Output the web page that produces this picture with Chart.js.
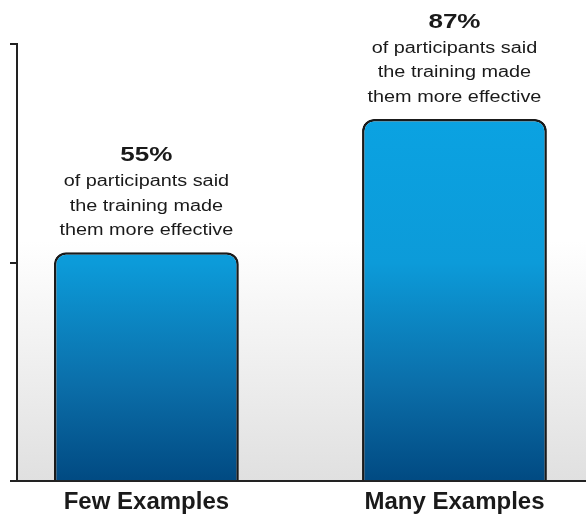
<!DOCTYPE html>
<html>
<head>
<meta charset="utf-8">
<script src="https://cdn.jsdelivr.net/npm/chart.js@4.4.1/dist/chart.umd.min.js"></script>
<style>
  html, body { margin: 0; padding: 0; background: #fff; overflow: hidden; }
  .wrap { width: 586px; height: 520px; position: relative; }
</style>
</head>
<body>
<div class="wrap"><canvas id="myChart"></canvas></div>
<script>
const categories = ["Few Examples", "Many Examples"];
const percentValues = [55, 87];
const noteLines = ["of participants said", "the training made", "them more effective"];
const yTickValues = [0, 52.5, 105];

const fontFamily = '"Liberation Sans", Arial, Helvetica, sans-serif';
const inkColor = "#1a1a1a";

// light grey wash at the bottom of the plot area
const backdrop = {
  id: "backdrop",
  beforeDraw(chart) {
    const { ctx, chartArea: a } = chart;
    if (!a) return;
    const g = ctx.createLinearGradient(0, a.top, 0, a.bottom);
    g.addColorStop(0, "#ffffff");
    g.addColorStop(0.45, "#ffffff");
    g.addColorStop(1, "#e0e0e0");
    ctx.save();
    ctx.fillStyle = g;
    ctx.fillRect(a.left, a.top, a.right - a.left, a.bottom - a.top);
    ctx.restore();
  }
};

// text block above each bar
const barNotes = {
  id: "barNotes",
  afterDatasetsDraw(chart) {
    const { ctx } = chart;
    const meta = chart.getDatasetMeta(0);
    const stretch = 1.24;
    const drawText = (text, x, y, font) => {
      ctx.save();
      ctx.translate(x, y);
      ctx.scale(stretch, 1);
      ctx.font = font;
      ctx.fillStyle = inkColor;
      ctx.textAlign = "center";
      ctx.textBaseline = "alphabetic";
      ctx.fillText(text, 0, 0);
      ctx.restore();
    };
    meta.data.forEach((bar, i) => {
      const top = bar.y;
      drawText(percentValues[i] + "%", bar.x, top - 91, "bold 21px " + fontFamily);
      noteLines.forEach((line, j) => {
        drawText(line, bar.x, top - 66 + j * 24.5, "16px " + fontFamily);
      });
    });
  }
};

const barFill = (context) => {
  const chart = context.chart;
  const a = chart.chartArea;
  if (!a) return "#0a9ad8";
  const g = chart.ctx.createLinearGradient(0, a.top, 0, a.bottom);
  g.addColorStop(0, "#0aa6e6");
  g.addColorStop(0.5, "#0c9bd9");
  g.addColorStop(0.78, "#0b6ea9");
  g.addColorStop(1, "#014a82");
  return g;
};

const ctx = document.getElementById("myChart").getContext("2d");
const myChart = new Chart(ctx, {
  type: "bar",
  data: {
    datasets: [
      {
        data: percentValues.map((v, i) => ({ x: i, y: v })),
        backgroundColor: barFill,
        borderColor: "#1a1a1a",
        borderWidth: 2.5,
        borderSkipped: "bottom",
        borderRadius: { topLeft: 12, topRight: 12, bottomLeft: 0, bottomRight: 0 },
        categoryPercentage: 0.8,
        barPercentage: 0.75
      }
    ]
  },
  options: {
    responsive: true,
    maintainAspectRatio: false,
    animation: false,
    layout: { padding: { top: 44, left: 10, right: 0, bottom: -4 } },
    plugins: {
      legend: { display: false },
      tooltip: { enabled: false }
    },
    scales: {
      x: {
        type: "linear",
        offset: false,
        min: -0.42,
        max: 1.427,
        afterBuildTicks: (scale) => {
          scale.ticks = categories.map((_, i) => ({ value: i }));
        },
        grid: { display: false, drawTicks: false, offset: false },
        border: { display: true, color: "#222", width: 2 },
        ticks: {
          autoSkip: false,
          maxRotation: 0,
          padding: 7,
          color: inkColor,
          font: { family: fontFamily, size: 24, weight: "bold" },
          callback: (value) => categories[value]
        }
      },
      y: {
        min: 0,
        max: 105,
        afterBuildTicks: (scale) => {
          scale.ticks = yTickValues.map((v) => ({ value: v }));
        },
        grid: {
          drawOnChartArea: false,
          drawTicks: true,
          tickLength: 7,
          color: "#222",
          lineWidth: 2
        },
        border: { display: true, color: "#222", width: 2 },
        ticks: { display: false }
      }
    }
  },
  plugins: [backdrop, barNotes]
});
</script>
</body>
</html>
